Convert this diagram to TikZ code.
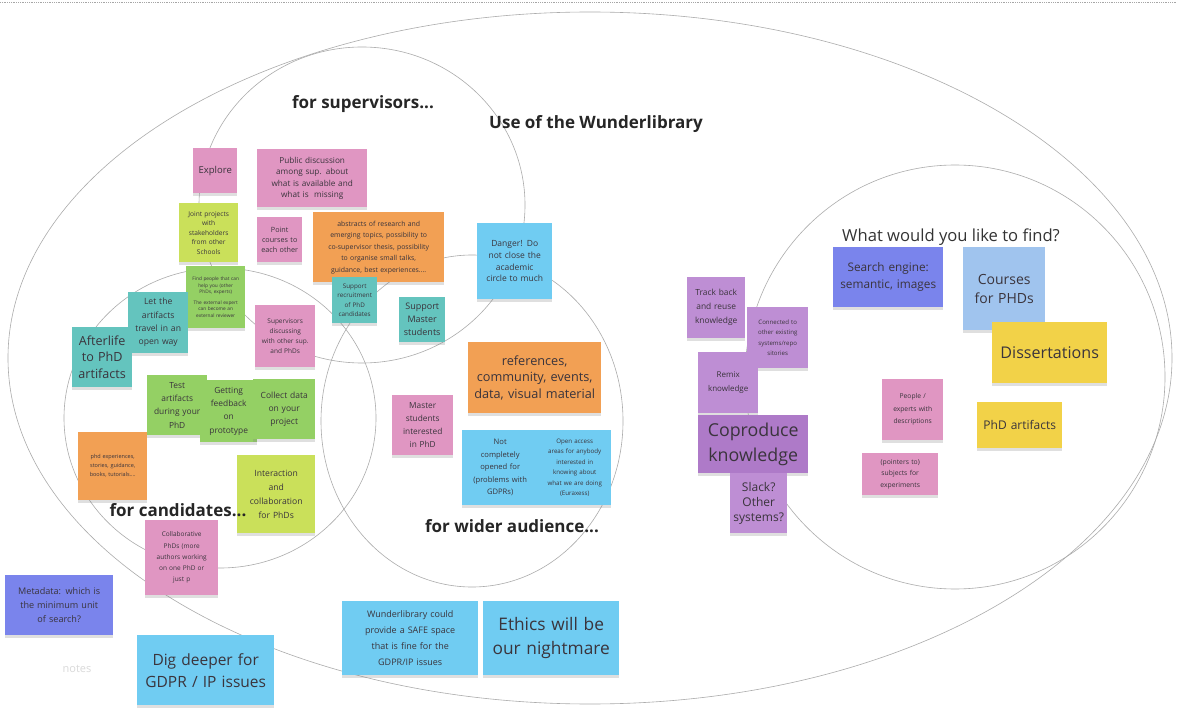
\documentclass[tikz,border=0pt]{standalone}
\usepackage{fontspec}
\setmainfont{Open Sans}
\usetikzlibrary{shadows}

\definecolor{pinknote}{RGB}{224,150,194}
\definecolor{tealnote}{RGB}{100,196,190}
\definecolor{cyannote}{RGB}{112,204,242}
\definecolor{orangenote}{RGB}{242,160,84}
\definecolor{limenote}{RGB}{202,224,90}
\definecolor{greennote}{RGB}{148,208,100}
\definecolor{purplenote}{RGB}{190,142,212}
\definecolor{violetnote}{RGB}{174,122,200}
\definecolor{bluenote}{RGB}{122,132,236}
\definecolor{skynote}{RGB}{160,196,238}
\definecolor{yellownote}{RGB}{242,210,72}
\definecolor{inknote}{RGB}{58,52,60}
\newcommand{\fsz}[2]{\fontsize{#1}{#2}\selectfont}

\begin{document}
\begin{tikzpicture}[x=1pt,y=-1pt,
  note/.style 2 args={anchor=north west,minimum width=#1pt,minimum height=#2pt,text width=#1pt-2pt,
    inner xsep=1pt,inner ysep=0pt,align=center,text=inknote,
    drop shadow={shadow xshift=0pt,shadow yshift=-2.5pt,opacity=.25}},
  ring/.style={draw=gray!65,line width=.6pt},
  title/.style={font=\bfseries\fsz{17}{20},text=black!85}]
\useasboundingbox[fill=white] (0,0) rectangle (1177,708);
\draw[gray!70,densely dotted,line width=.8pt] (0,2) -- (1177,2);

% the rings
\draw[ring] (590,358) ellipse [x radius=582pt,y radius=346pt];
\draw[ring] (362,205) ellipse [x radius=163pt,y radius=158pt];
\draw[ring] (220,418) ellipse [x radius=156pt,y radius=150pt];
\draw[ring] (472,421) ellipse [x radius=151pt,y radius=166pt];
\draw[ring] (955,377) ellipse [x radius=210pt,y radius=212pt];

% supervisors
\node[note={44}{45},fill=pinknote,font=\fsz{9.5}{12}] (explore) at (193,148) {Explore};
\node[note={110}{58},fill=pinknote,font=\fsz{8.2}{11.5}] (pubdisc) at (257,149) {Public discussion\\among sup. about\\what is available and\\what is\ \ missing};
\node[note={59}{59},fill=limenote,font=\fsz{6.6}{9.5}] (joint) at (179,203) {Joint projects\\with\\stakeholders\\from other\\Schools};
\node[note={45}{45},fill=pinknote,font=\fsz{7.2}{10}] (point) at (257,217) {Point\\courses to\\each other};
\node[note={131}{70},fill=orangenote,font=\fsz{6.9}{11.5}] (abstracts) at (313,212) {abstracts of research and\\emerging topics, possibility to\\co-supervisor thesis, possibility\\to organise small talks,\\guidance, best experiences....};
\node[note={59}{62},fill=greennote,font=\fsz{4.8}{6.5}] (findpeople) at (186,266) {Find people that can\\help you (other\\PhDs, experts)\\[4pt]The external expert\\can become an\\external reviewer};
\node[note={45}{46},fill=tealnote,font=\fsz{6.3}{9.3}] (recruit) at (332,277) {Support\\recruitment\\of PhD\\candidates};
\node[note={46}{45},fill=tealnote,font=\fsz{9}{13}] (master) at (399,297) {Support\\Master\\students};
\node[note={60}{62},fill=pinknote,font=\fsz{6.5}{10}] (supdisc) at (255,305) {Supervisors\\discussing\\with other sup.\\and PhDs};

% candidates
\node[note={60}{61},fill=tealnote,font=\fsz{8.6}{13.3}] (travel) at (128,292) {Let the\\artifacts\\travel in an\\open way};
\node[note={60}{60},fill=tealnote,font=\fsz{12.6}{16.3}] (afterlife) at (72,327) {Afterlife\\to PhD\\artifacts};
\node[note={60}{60},fill=greennote,font=\fsz{8.4}{13.3}] (test) at (147,375) {Test\\artifacts\\during your\\PhD};
\node[note={57}{62},fill=greennote,font=\fsz{8.4}{13.3}] (feedback) at (200,380) {Getting\\feedback\\on\\prototype};
\node[note={62}{60},fill=greennote,font=\fsz{8.5}{13.3}] (collect) at (253,379) {Collect data\\on your\\project};
\node[note={69}{68},fill=orangenote,font=\fsz{5.5}{9}] (experiences) at (78,432) {phd experiences,\\stories, guidance,\\books, tutorials....};
\node[note={78}{78},fill=limenote,font=\fsz{8.6}{14}] (interaction) at (237,455) {Interaction\\and\\collaboration\\for PhDs};
\node[note={73}{75},fill=pinknote,font=\fsz{6.5}{11.3}] (collab) at (145,520) {Collaborative\\PhDs (more\\authors working\\on one PhD or\\just p};

% wider audience
\node[note={75}{76},fill=cyannote,font=\fsz{8.5}{11.7}] (danger) at (477,223) {Danger! Do\\not close the\\academic\\circle to much};
\node[note={61}{60},fill=pinknote,font=\fsz{8.3}{12.8}] (interested) at (392,395) {Master\\students\\interested\\in PhD};
\node[note={133}{71},fill=orangenote,font=\fsz{12.7}{16.7}] (references) at (468,342) {references,\\community, events,\\data, visual material};
\node[note={76}{75},fill=cyannote,font=\fsz{7.6}{12.5}] (notopen) at (462,430) {Not\\completely\\opened for\\(problems with\\GDPRs)};
\node[note={73}{75},fill=cyannote,font=\fsz{6.2}{10.4}] (openaccess) at (538,430) {Open access\\areas for anybody\\interested in\\knowing about\\what we are doing\\(Euraxess)};

% outside the rings
\node[note={108}{60},fill=bluenote,font=\fsz{9.1}{14}] (metadata) at (5,575) {Metadata: which is\\the minimum unit\\of search?};
\node[note={137}{70},fill=cyannote,font=\fsz{15.5}{22}] (digdeeper) at (137,635) {Dig deeper for\\GDPR / IP issues};
\node[note={136}{74},fill=cyannote,font=\fsz{9}{15.9}] (safespace) at (342,601) {Wunderlibrary could\\provide a SAFE space\\that is fine for the\\GDPR/IP issues};
\node[note={136}{74},fill=cyannote,font=\fsz{17.3}{24}] (ethics) at (483,601) {Ethics will be\\our nightmare};

% knowledge
\node[note={58}{61},fill=purplenote,font=\fsz{8.4}{14}] (trackback) at (687,277) {Track back\\and reuse\\knowledge};
\node[note={61}{61},fill=purplenote,font=\fsz{6.1}{10.5}] (connected) at (747,307) {Connected to\\other existing\\systems/repo\\sitories};
\node[note={60}{61},fill=purplenote,font=\fsz{8}{14}] (remix) at (698,352) {Remix\\knowledge};
\node[note={110}{58},fill=violetnote,font=\fsz{17.8}{25}] (coproduce) at (698,415) {Coproduce\\knowledge};
\node[note={57}{60},fill=purplenote,font=\fsz{12}{15}] (slack) at (730,473) {Slack?\\Other\\systems?};

% what to find
\node[note={110}{60},fill=bluenote,font=\fsz{11.8}{16.7}] (search) at (833,247) {Search engine:\\semantic, images};
\node[note={82}{83},fill=skynote,font=\fsz{14}{18.7}] (courses) at (963,247) {Courses\\for PHDs};
\node[note={115}{61},fill=yellownote,font=\fsz{16.1}{19}] (dissertations) at (992,322) {Dissertations};
\node[note={61}{61},fill=pinknote,font=\fsz{6.7}{12.5}] (people) at (882,379) {People /\\experts with\\descriptions};
\node[note={85}{46},fill=yellownote,font=\fsz{12}{14}] (phdartifacts) at (977,402) {PhD artifacts};
\node[note={76}{42},fill=pinknote,font=\fsz{6.8}{11.7}] (pointers) at (862,453) {(pointers to)\\subjects for\\experiments};

% labels on top
\node[title] (suplabel) at (363,104) {for supervisors...};
\node[title] (uselabel) at (596,124) {Use of the Wunderlibrary};
\node[title] (candlabel) at (178,510) {for candidates...};
\node[title] (widelabel) at (512,526) {for wider audience...};
\node[font=\fsz{16.6}{19},text=black!80] (findlabel) at (951,237) {What would you like to find?};
\node[font=\fsz{11}{13},text=black!15] (noteslabel) at (77,669) {notes};
\end{tikzpicture}
\end{document}
